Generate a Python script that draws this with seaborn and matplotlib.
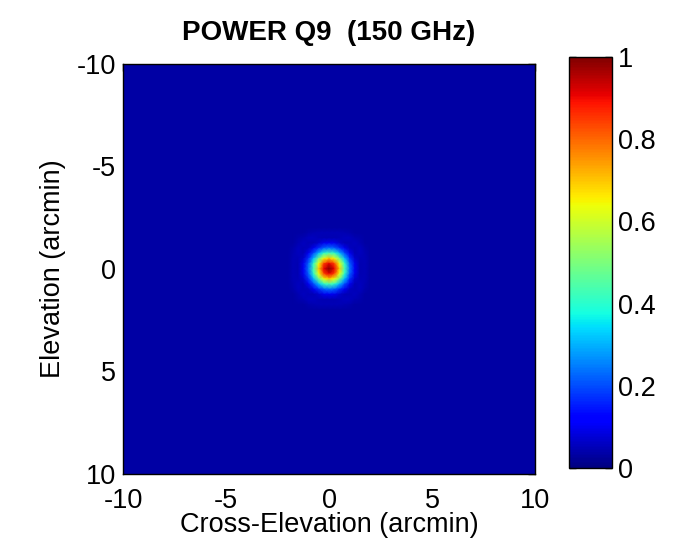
import numpy as np
import pandas as pd
import seaborn as sns
import matplotlib.pyplot as plt

# map grid (arcmin)
grid_step = 0.25
grid_lim = 10
background_level = 0.035

# one quadrant of the main beam + faint sidelobe
# rows: elevation offset 0..7 steps, cols: cross-elevation offset 0..7 steps
beam_quadrant = [
    [1.00, 0.91, 0.70, 0.44, 0.24, 0.10, 0.045, 0.050],
    [0.91, 0.84, 0.64, 0.41, 0.22, 0.095, 0.045, 0.050],
    [0.70, 0.64, 0.49, 0.31, 0.17, 0.070, 0.050, 0.050],
    [0.44, 0.41, 0.31, 0.20, 0.10, 0.050, 0.055, 0.045],
    [0.24, 0.22, 0.17, 0.10, 0.055, 0.050, 0.055, 0.040],
    [0.10, 0.095, 0.07, 0.050, 0.050, 0.055, 0.045, 0.035],
    [0.045, 0.045, 0.050, 0.055, 0.055, 0.045, 0.040, 0.035],
    [0.050, 0.050, 0.050, 0.045, 0.040, 0.035, 0.035, 0.035],
]

tick_values = [-10, -5, 0, 5, 10]
cbar_ticks = [0, 0.2, 0.4, 0.6, 0.8, 1]
cbar_labels = ['0', '0.2', '0.4', '0.6', '0.8', '1']

sns.set_style('white')
plt.rcParams['font.family'] = ['Liberation Sans', 'DejaVu Sans']
plt.rcParams['text.color'] = 'black'
plt.rcParams['axes.labelcolor'] = 'black'

# mirror the quadrant into the full central patch
q = np.array(beam_quadrant)
half = np.vstack([np.flipud(q[1:]), q])
patch = np.hstack([np.fliplr(half[:, 1:]), half])

coords = np.arange(-grid_lim, grid_lim + grid_step / 2, grid_step)
n = len(coords)
beam = np.full((n, n), background_level)
c = n // 2
k = patch.shape[0] // 2
beam[c - k:c + k + 1, c - k:c + k + 1] = patch
df = pd.DataFrame(beam, index=coords, columns=coords)

fig = plt.figure(figsize=(6.73, 5.44), dpi=100)
ax = fig.add_axes([0.183, 0.129, 0.612, 0.754])
cax = fig.add_axes([0.8455, 0.1397, 0.064, 0.7555])

sns.heatmap(df, ax=ax, cbar_ax=cax, cmap='jet', vmin=0, vmax=1,
            shading='gouraud', xticklabels=False, yticklabels=False)

pos = [(v + grid_lim) / grid_step for v in tick_values]
ax.set_xlim(0, n - 1)
ax.set_ylim(n - 1, 0)
ax.set_xticks(pos)
ax.set_xticklabels([str(v) for v in tick_values])
ax.set_yticks(pos)
ax.set_yticklabels([str(v) for v in tick_values])
ax.tick_params(direction='in', length=5, width=1, top=True, right=True,
               labelsize=19.5, pad=5, colors='black')
ax.tick_params(axis='x', pad=10)
for s in ax.spines.values():
    s.set_visible(True)
    s.set_color('black')
    s.set_linewidth(1)
ax.set_xlabel('Cross-Elevation (arcmin)', fontsize=19.5, labelpad=-1)
ax.set_ylabel('Elevation (arcmin)', fontsize=19.5, labelpad=8)
ax.set_title('POWER Q9  (150 GHz)', fontsize=20, fontweight='bold', pad=17)

cax.set_yticks(cbar_ticks)
cax.set_yticklabels(cbar_labels)
cax.tick_params(direction='in', length=5, width=1, left=True, right=True,
                labelsize=19.5, pad=4, colors='black')
cbar = ax.collections[0].colorbar
cbar.outline.set_visible(True)
cbar.outline.set_edgecolor('black')
cbar.outline.set_linewidth(1)

fig.savefig('out.png', dpi=100)
